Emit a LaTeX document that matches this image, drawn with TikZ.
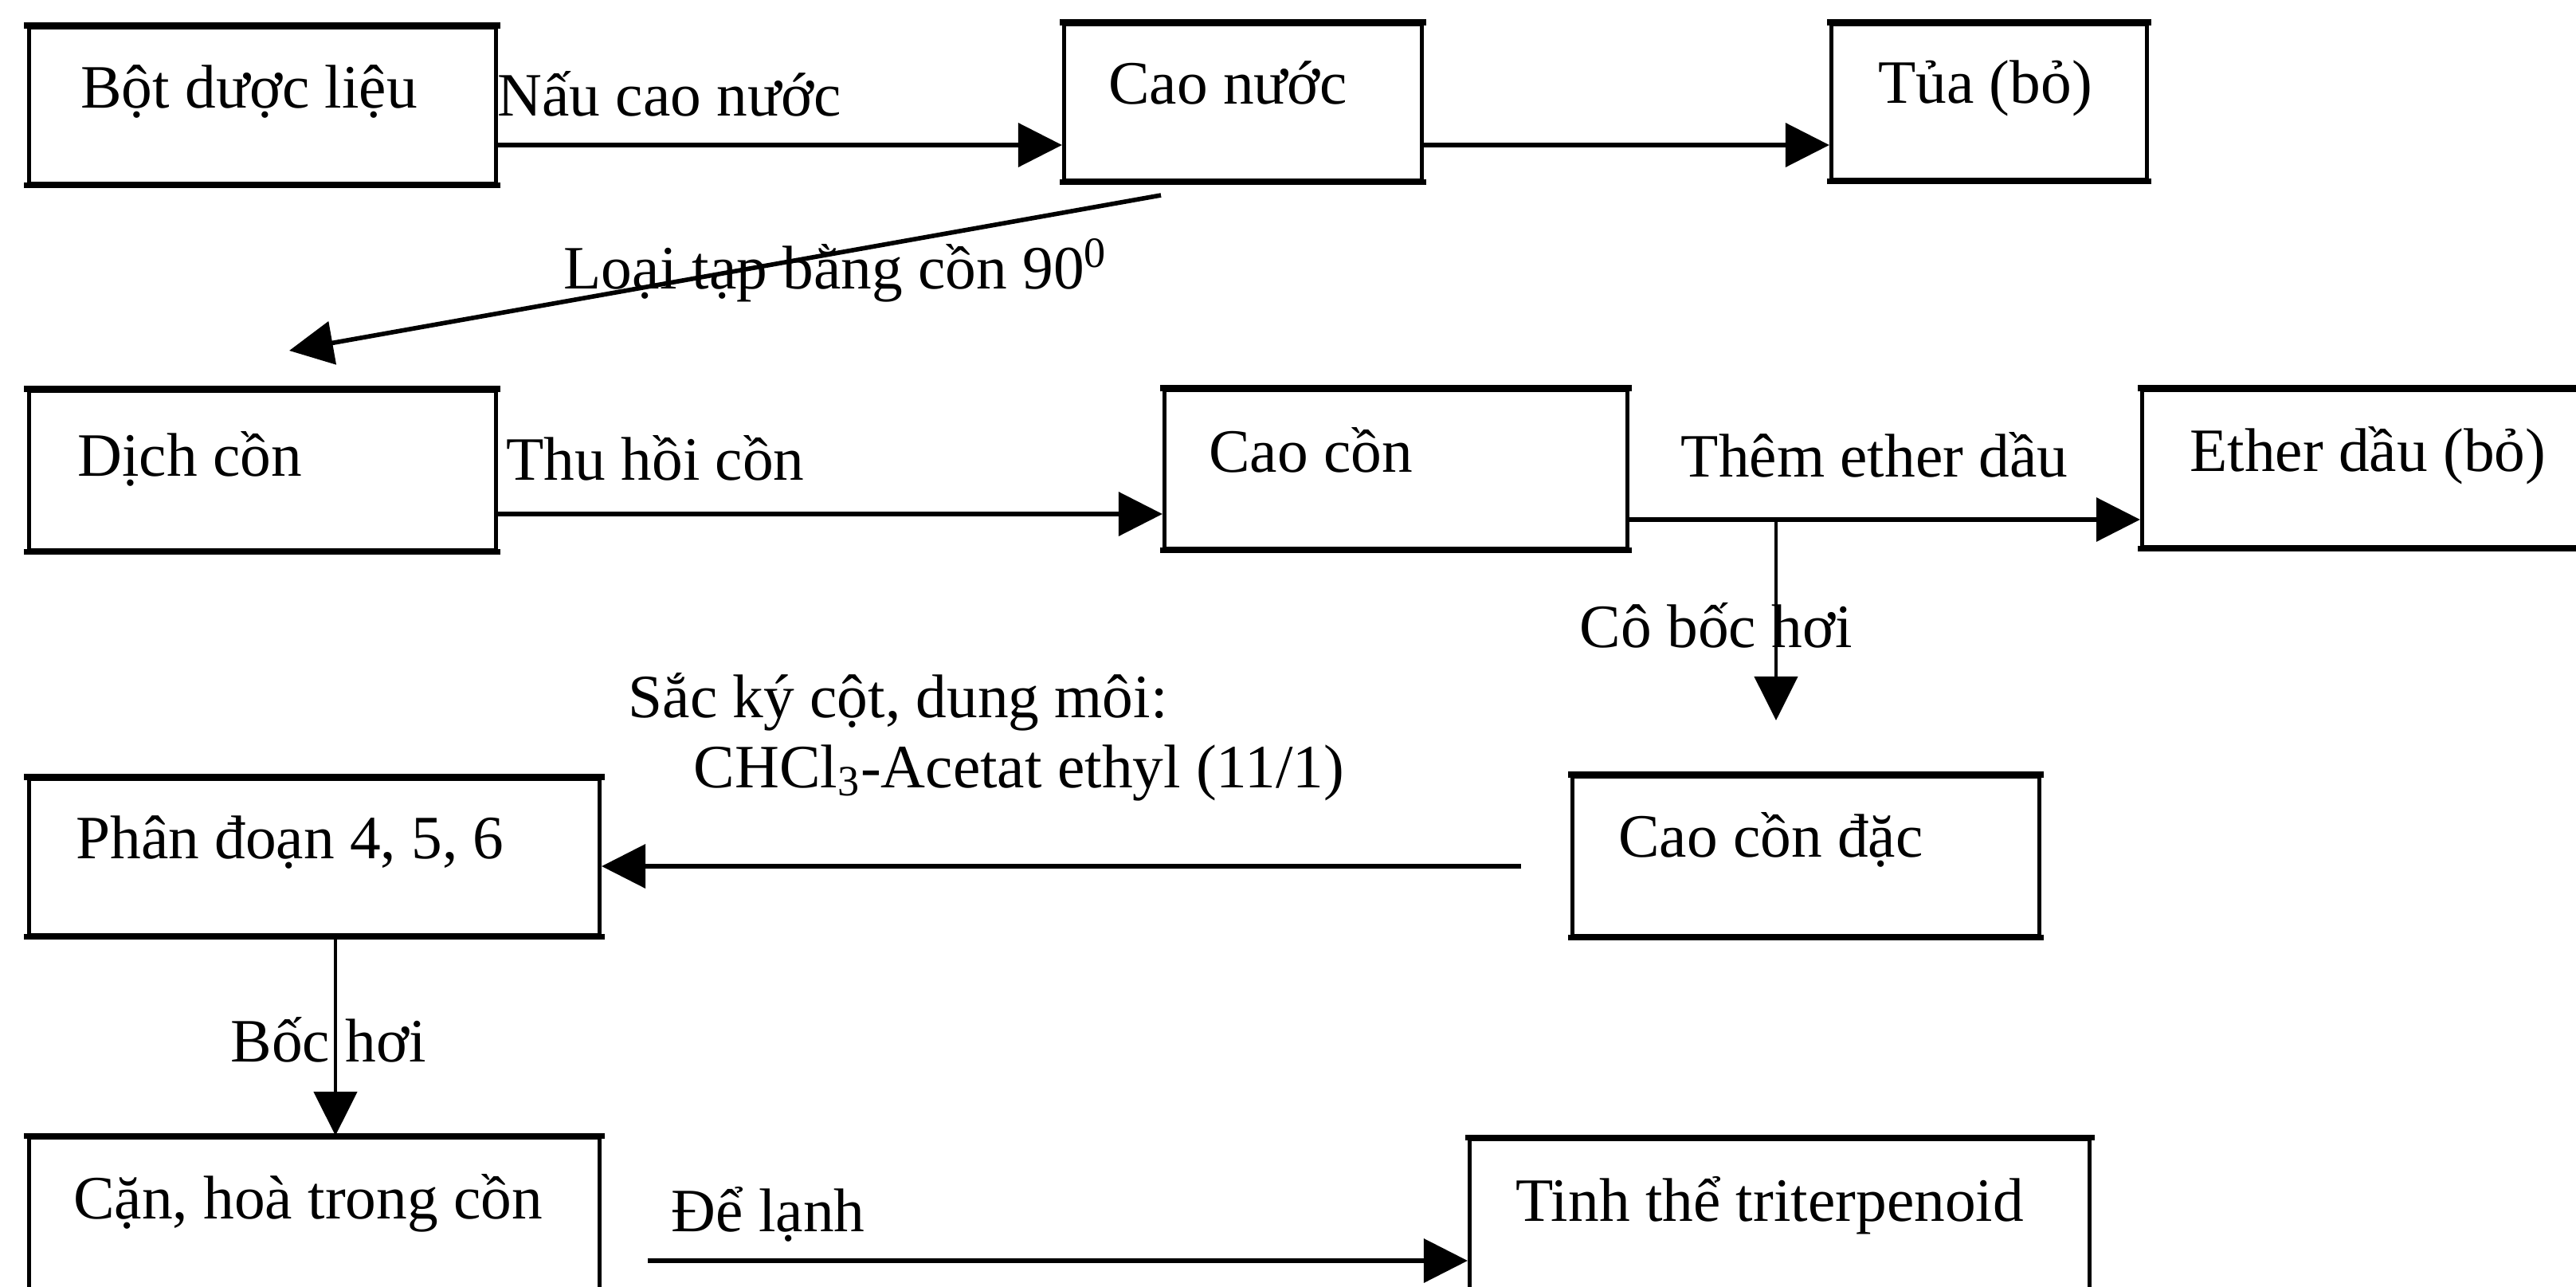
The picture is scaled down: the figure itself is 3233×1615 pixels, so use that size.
\documentclass[tikz,border=0pt]{standalone}
\usepackage{fontspec}
\setmainfont{Liberation Serif}
\usetikzlibrary{arrows.meta}
\newcommand\fsz{\fontsize{22}{26}\selectfont}
\newcommand\bx[3]{\makebox[#1][l]{\hspace*{#2}#3}}
\begin{document}
\begin{tikzpicture}[x=0.01cm,y=-0.01cm,
  box/.style={draw, line width=1.3pt, anchor=north west, inner sep=0pt, font=\fsz,
    append after command={(\tikzlastnode.north west) edge[line width=2pt, line cap=rect] (\tikzlastnode.north east)
      (\tikzlastnode.south west) edge[line width=2pt, line cap=rect] (\tikzlastnode.south east)}},
  lbl/.style={anchor=base west, inner sep=0pt, font=\fsz},
  arr/.style={-{Triangle[length=0.55cm,width=0.54cm]}, line width=1.9pt},
  thinarr/.style={arr, line width=1.2pt}]
\useasboundingbox (0,0) rectangle (3233,1615);
\clip (0,0) rectangle (3233,1615);
\fill[white] (0,0) rectangle (3233,1615);

% boxes
\node[box, text height=1.01cm, text depth=0.95cm] (bot) at (34,32) {\bx{5.86cm}{0.65cm}{Bột dược liệu}};
\node[box, text height=1.00cm, text depth=0.96cm] (caonuoc) at (1333,28) {\bx{4.49cm}{0.56cm}{Cao nước}};
\node[box, text height=0.99cm, text depth=0.96cm] (tua) at (2296,28) {\bx{3.96cm}{0.59cm}{Tủa (bỏ)}};
\node[box, text height=1.07cm, text depth=0.93cm] (dich) at (34,488) {\bx{5.86cm}{0.61cm}{Dịch cồn}};
\node[box, text height=1.03cm, text depth=0.96cm] (caocon) at (1459,487) {\bx{5.81cm}{0.56cm}{Cao cồn}};
\node[box, text height=1.02cm, text depth=0.95cm] (ether) at (2686,487) {\bx{6.14cm}{0.60cm}{Ether dầu (bỏ)}};
\node[box, text height=1.01cm, text depth=0.99cm] (caoconda) at (1971,972) {\bx{5.86cm}{0.58cm}{Cao cồn đặc}};
\node[box, text height=1.00cm, text depth=0.96cm] (phandoan) at (34,975) {\bx{7.16cm}{0.59cm}{Phân đoạn 4, 5, 6}};
\node[box, text height=1.02cm, text depth=1.33cm] (can) at (34,1425) {\bx{7.16cm}{0.56cm}{Cặn, hoà trong cồn}};
\node[box, text height=1.03cm, text depth=1.30cm] (tinh) at (1842,1427) {\bx{7.78cm}{0.58cm}{Tinh thể triterpenoid}};

% labels
\node[lbl] (l1) at (624,145) {Nấu cao nước};
\node[lbl] (l2) at (707,362) {Loại tạp bằng cồn 90\textsuperscript{0}};
\node[lbl] (l3) at (635,602) {Thu hồi cồn};
\node[lbl] (l4) at (2109,598) {Thêm ether dầu};
\node[lbl] (l5) at (1982,812) {Cô bốc hơi};
\node[lbl] (l6) at (788,900) {Sắc ký cột, dung môi:};
\node[lbl] (l7) at (870,988) {CHCl\textsubscript{3}-Acetat ethyl (11/1)};
\node[lbl] (l8) at (289,1332) {Bốc hơi};
\node[lbl] (l9) at (842,1545) {Để lạnh};

% helper coordinates
\coordinate (r1) at (0,182);
\coordinate (r2a) at (0,645);
\coordinate (r2b) at (0,652);
\coordinate (r3) at (0,1087);
\coordinate (r4) at (0,1582);
\coordinate (c421) at (421,0);
\coordinate (dstart) at (1457,245);
\coordinate (dend) at (363,440);
\coordinate (brk) at (2229,652);
\coordinate (brkend) at (2229,904);
\coordinate (sacstart) at (1909,1087);
\coordinate (lanhstart) at (813,1582);

% connectors
\draw[arr] (bot.east |- r1) -- (caonuoc.west |- r1);
\draw[arr] (caonuoc.east |- r1) -- (tua.west |- r1);
\draw[arr, line width=1.6pt] (dstart) -- (dend);
\draw[arr] (dich.east |- r2a) -- (caocon.west |- r2a);
\draw[arr] (caocon.east |- r2b) -- (ether.west |- r2b);
\draw[thinarr] (brk) -- (brkend);
\draw[arr] (sacstart) -- (phandoan.east |- r3);
\draw[thinarr] (phandoan.south -| c421) -- (can.north -| c421);
\draw[arr] (lanhstart) -- (tinh.west |- r4);
\end{tikzpicture}
\end{document}
